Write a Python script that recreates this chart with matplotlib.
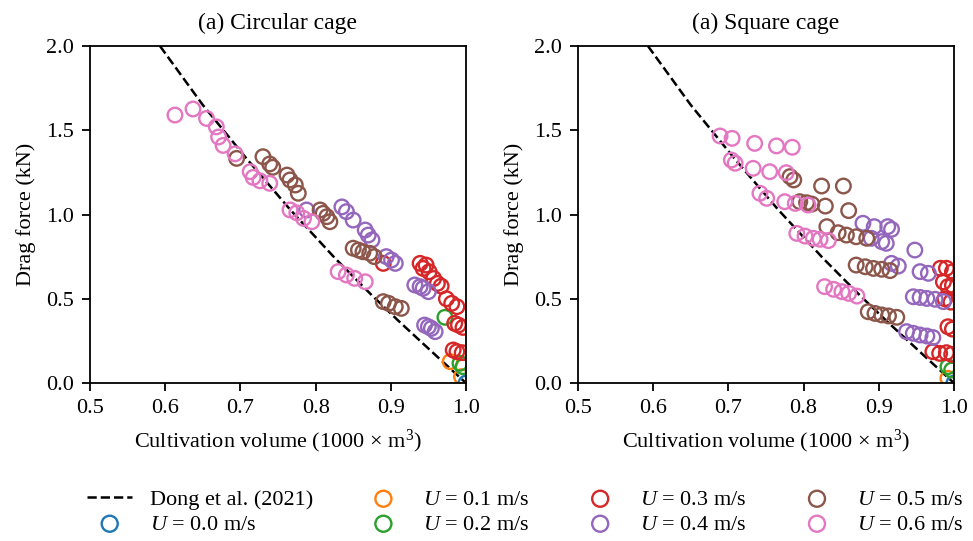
import matplotlib
matplotlib.use("Agg")
import matplotlib.pyplot as plt

plt.rcParams['font.family'] = ['Liberation Serif', 'DejaVu Serif']
plt.rcParams['mathtext.fontset'] = 'custom'
plt.rcParams['mathtext.rm'] = 'Liberation Serif'
plt.rcParams['mathtext.it'] = 'Liberation Serif:italic'
plt.rcParams['font.size'] = 16

# Dong et al. (2021) reference curve
dong_x = [0.593, 0.65, 0.708, 0.766, 0.826, 0.875, 0.91, 0.957, 1.0]
dong_y = [2.0, 1.65, 1.333, 1.03, 0.74, 0.52, 0.37, 0.176, 0.0]

speeds = ['0.0', '0.1', '0.2', '0.3', '0.4', '0.5', '0.6']
colors = ['tab:blue', 'tab:orange', 'tab:green', 'tab:red',
          'tab:purple', 'tab:brown', 'tab:pink']

# circular cage: (volume, drag) per current speed
circ_x = {
    '0.0': [1.0],
    '0.1': [0.979, 0.994],
    '0.2': [0.972, 0.992, 0.996],
    '0.3': [0.890, 0.939, 0.943, 0.947, 0.951, 0.957, 0.962, 0.967, 0.974, 0.981,
            0.988, 0.985, 0.990, 0.996, 0.983, 0.988, 0.995],
    '0.4': [0.788, 0.835, 0.841, 0.850, 0.866, 0.870, 0.875, 0.894, 0.901, 0.906,
            0.932, 0.939, 0.943, 0.950, 0.945, 0.950, 0.954, 0.959],
    '0.5': [0.695, 0.730, 0.739, 0.743, 0.762, 0.766, 0.773, 0.777, 0.806, 0.810,
            0.815, 0.819, 0.850, 0.857, 0.863, 0.872, 0.878, 0.890, 0.897, 0.906,
            0.914],
    '0.6': [0.613, 0.637, 0.655, 0.668, 0.671, 0.677, 0.693, 0.713, 0.717, 0.726,
            0.739, 0.766, 0.775, 0.784, 0.795, 0.830, 0.841, 0.852, 0.866],
}
circ_y = {
    '0.0': [0.0],
    '0.1': [0.127, 0.038],
    '0.2': [0.39, 0.117, 0.097],
    '0.3': [0.71, 0.71, 0.68, 0.70, 0.66, 0.62, 0.591, 0.575, 0.50, 0.473,
            0.453, 0.354, 0.344, 0.33, 0.196, 0.186, 0.18],
    '0.4': [1.027, 1.045, 1.017, 0.967, 0.908, 0.878, 0.849, 0.750, 0.730, 0.710,
            0.582, 0.572, 0.562, 0.542, 0.344, 0.334, 0.324, 0.305],
    '0.5': [1.333, 1.343, 1.30, 1.28, 1.234, 1.205, 1.175, 1.126, 1.027, 1.007,
            0.987, 0.957, 0.80, 0.789, 0.779, 0.770, 0.75, 0.483, 0.473, 0.453,
            0.443],
    '0.6': [1.59, 1.626, 1.57, 1.52, 1.46, 1.41, 1.36, 1.254, 1.22, 1.20,
            1.185, 1.027, 1.01, 0.977, 0.957, 0.661, 0.641, 0.621, 0.601],
}

# square cage
sq_x = {
    '0.0': [1.0],
    '0.1': [0.992],
    '0.2': [0.992, 0.997],
    '0.3': [0.982, 0.990, 0.998, 0.986, 0.992, 0.998, 0.988, 0.996, 0.992, 0.998,
            0.972, 0.981, 0.990, 0.997],
    '0.4': [0.879, 0.894, 0.912, 0.917, 0.890, 0.904, 0.910, 0.948, 0.917, 0.926,
            0.955, 0.966, 0.946, 0.955, 0.964, 0.975, 0.986, 0.937, 0.946, 0.955,
            0.964, 0.972],
    '0.5': [0.782, 0.787, 0.824, 0.853, 0.795, 0.804, 0.811, 0.829, 0.860, 0.831,
            0.846, 0.857, 0.870, 0.884, 0.870, 0.882, 0.893, 0.904, 0.915, 0.886,
            0.895, 0.904, 0.913, 0.924],
    '0.6': [0.689, 0.705, 0.735, 0.764, 0.785, 0.704, 0.709, 0.733, 0.755, 0.777,
            0.742, 0.751, 0.775, 0.789, 0.806, 0.791, 0.802, 0.813, 0.822, 0.833,
            0.828, 0.840, 0.851, 0.860, 0.871],
}
sq_y = {
    '0.0': [0.0],
    '0.1': [0.028],
    '0.2': [0.097, 0.077],
    '0.3': [0.681, 0.681, 0.66, 0.60, 0.572, 0.58, 0.50, 0.48, 0.334, 0.32,
            0.186, 0.176, 0.18, 0.17],
    '0.4': [0.948, 0.928, 0.928, 0.912, 0.859, 0.839, 0.829, 0.789, 0.710, 0.694,
            0.661, 0.651, 0.512, 0.508, 0.502, 0.497, 0.483, 0.305, 0.295, 0.285,
            0.279, 0.27],
    '0.5': [1.225, 1.205, 1.169, 1.169, 1.076, 1.070, 1.062, 1.050, 1.023, 0.928,
            0.892, 0.878, 0.868, 0.859, 0.700, 0.690, 0.680, 0.675, 0.667, 0.423,
            0.413, 0.404, 0.398, 0.390],
    '0.6': [1.466, 1.452, 1.422, 1.407, 1.399, 1.323, 1.304, 1.274, 1.254, 1.248,
            1.126, 1.096, 1.076, 1.066, 1.056, 0.888, 0.872, 0.859, 0.853, 0.845,
            0.572, 0.556, 0.542, 0.532, 0.516],
}


def draw_panel(ax, xs, ys, title):
    ax.plot(dong_x, dong_y, 'k--', lw=1.8, label='Dong et al. (2021)', zorder=1)
    for u, c in zip(speeds, colors):
        ax.scatter(xs[u], ys[u], s=110, facecolors='none', edgecolors=c,
                   linewidths=1.7, label=f'$U$ = {u} m/s', zorder=2)
    ax.set_xlim(0.5, 1.0)
    ax.set_ylim(0.0, 2.0)
    ax.set_xticks([0.5, 0.6, 0.7, 0.8, 0.9, 1.0])
    ax.set_yticks([0.0, 0.5, 1.0, 1.5, 2.0])
    ax.set_xlabel('Cultivation volume (1000 × m$^3$)', fontsize=16, labelpad=7)
    ax.set_ylabel('Drag force (kN)', fontsize=16, labelpad=7)
    ax.set_title(title, fontsize=17, pad=12)
    ax.tick_params(labelsize=16, width=1.3, length=6, pad=5.5)
    for sp in ax.spines.values():
        sp.set_linewidth(1.3)


fig = plt.figure(figsize=(9.73, 5.41), dpi=100)
ax1 = fig.add_axes([0.0925, 0.292, 0.3864, 0.623])
ax2 = fig.add_axes([0.594, 0.292, 0.3864, 0.623])

draw_panel(ax1, circ_x, circ_y, '(a) Circular cage')
draw_panel(ax2, sq_x, sq_y, '(a) Square cage')

handles, labels = ax1.get_legend_handles_labels()
fig.legend(handles, labels, loc='center', bbox_to_anchor=(0.540, 0.054),
           ncol=4, frameon=False, fontsize=16, handlelength=2.0,
           handletextpad=0.8, columnspacing=2.17, labelspacing=0.2,
           markerscale=1.1)

fig.savefig('out.png', dpi=100)
